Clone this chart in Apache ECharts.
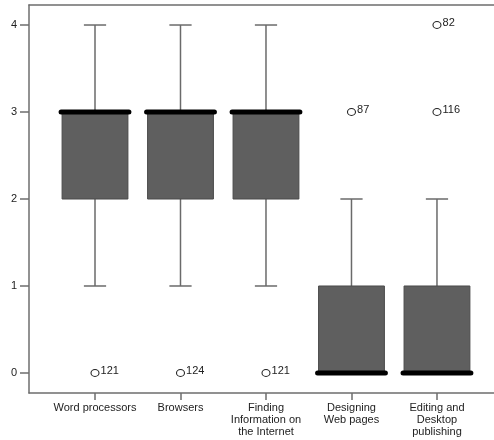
<!DOCTYPE html>
<html>
<head>
<meta charset="utf-8">
<script src="https://cdn.jsdelivr.net/npm/echarts@6/dist/echarts.min.js"></script>
<style>
  html, body { margin: 0; padding: 0; background: #fff; }
  #chart { width: 494px; height: 440px; }
</style>
</head>
<body>
<div id="chart"></div>
<script>
// categories on the x axis
const categories = [
  'Word processors',
  'Browsers',
  'Finding\nInformation on\nthe Internet',
  'Designing\nWeb pages',
  'Editing and\nDesktop\npublishing'
];
// five-number summaries per category
const mins    = [1, 1, 1, 0, 0];
const q1s     = [2, 2, 2, 0, 0];
const medians = [3, 3, 3, 0, 0];
const q3s     = [3, 3, 3, 1, 1];
const maxs    = [4, 4, 4, 2, 2];
// outliers: category index, value, case label
const outlierCat    = [0, 1, 2, 3, 4, 4];
const outlierVal    = [0, 0, 0, 3, 3, 4];
const outlierLabels = ['121', '124', '121', '87', '116', '82'];
// y tick labels
const yTicks = [0, 1, 2, 3, 4];

const font = "'Liberation Sans', Arial, sans-serif";
const axisColor = '#6e6e6e';

const boxData = categories.map((c, i) => [i, mins[i], q1s[i], medians[i], q3s[i], maxs[i]]);
const outlierData = outlierCat.map((c, i) => [c, outlierVal[i], outlierLabels[i]]);

function renderBox(params, api) {
  const x = api.value(0);
  const pMin = api.coord([x, api.value(1)]);
  const pQ1 = api.coord([x, api.value(2)]);
  const pMed = api.coord([x, api.value(3)]);
  const pQ3 = api.coord([x, api.value(4)]);
  const pMax = api.coord([x, api.value(5)]);
  const band = api.size([1, 0])[0];
  const bw = band * 0.77;
  const cw = band * 0.26;
  const cx = pMed[0];
  const lineStyle = { stroke: '#6a6a6a', lineWidth: 1.5 };
  const children = [];
  // whiskers
  children.push({ type: 'line', shape: { x1: cx, y1: pQ3[1], x2: cx, y2: pMax[1] }, style: lineStyle });
  children.push({ type: 'line', shape: { x1: cx, y1: pQ1[1], x2: cx, y2: pMin[1] }, style: lineStyle });
  // caps (skip when whisker has zero length)
  if (pMax[1] !== pQ3[1]) {
    children.push({ type: 'line', shape: { x1: cx - cw / 2, y1: pMax[1], x2: cx + cw / 2, y2: pMax[1] }, style: lineStyle });
  }
  if (pMin[1] !== pQ1[1]) {
    children.push({ type: 'line', shape: { x1: cx - cw / 2, y1: pMin[1], x2: cx + cw / 2, y2: pMin[1] }, style: lineStyle });
  }
  // box
  children.push({
    type: 'rect',
    shape: { x: cx - bw / 2, y: pQ3[1], width: bw, height: pQ1[1] - pQ3[1] },
    style: { fill: '#5f5f5f', stroke: '#4a4a4a', lineWidth: 1 }
  });
  // median
  children.push({
    type: 'line',
    shape: { x1: cx - bw / 2 - 1, y1: pMed[1], x2: cx + bw / 2 + 1, y2: pMed[1] },
    style: { stroke: '#000', lineWidth: 5, lineCap: 'round' }
  });
  return { type: 'group', children: children };
}

const chart = echarts.init(document.getElementById('chart'));
const option = {
  animation: false,
  backgroundColor: '#fff',
  grid: { left: 29, top: 5, right: 0, bottom: 47 },
  xAxis: [{
    type: 'value',
    min: -0.772,
    max: 4.667,
    splitLine: { show: false },
    axisLine: { show: true, onZero: false, lineStyle: { color: axisColor, width: 1.5 } },
    axisTick: { show: true, inside: false, length: 7, customValues: [0, 1, 2, 3, 4], lineStyle: { color: axisColor, width: 1.5 } },
    axisLabel: {
      customValues: [0, 1, 2, 3, 4],
      formatter: v => categories[Math.round(v)],
      fontFamily: font, fontSize: 11, color: '#222', lineHeight: 12, margin: 9,
      hideOverlap: false
    }
  }, {
    type: 'value',
    position: 'top',
    min: -0.772,
    max: 4.667,
    splitLine: { show: false },
    axisLine: { show: true, onZero: false, lineStyle: { color: axisColor, width: 1.5 } },
    axisTick: { show: false },
    axisLabel: { show: false }
  }],
  yAxis: {
    type: 'value',
    min: -0.23,
    max: 4.23,
    splitLine: { show: false },
    axisLine: { show: true, onZero: false, lineStyle: { color: axisColor, width: 1.5 } },
    axisTick: { show: true, inside: false, length: 9, customValues: yTicks, lineStyle: { color: axisColor, width: 1.5 } },
    axisLabel: {
      customValues: yTicks,
      fontFamily: font, fontSize: 11, color: '#222', margin: 12
    }
  },
  series: [{
    type: 'custom',
    renderItem: renderBox,
    encode: { x: 0, y: [1, 2, 3, 4, 5] },
    data: boxData,
    z: 2
  }, {
    type: 'scatter',
    data: outlierData,
    symbol: 'circle',
    symbolSize: [8, 7],
    itemStyle: { color: '#fff', borderColor: '#222', borderWidth: 1, opacity: 1 },
    label: {
      show: true,
      position: 'right',
      distance: 1,
      offset: [0, -2],
      formatter: p => p.value[2],
      fontFamily: font, fontSize: 11, color: '#222'
    },
    z: 3
  }]
};
option && chart.setOption(option);
</script>
</body>
</html>
